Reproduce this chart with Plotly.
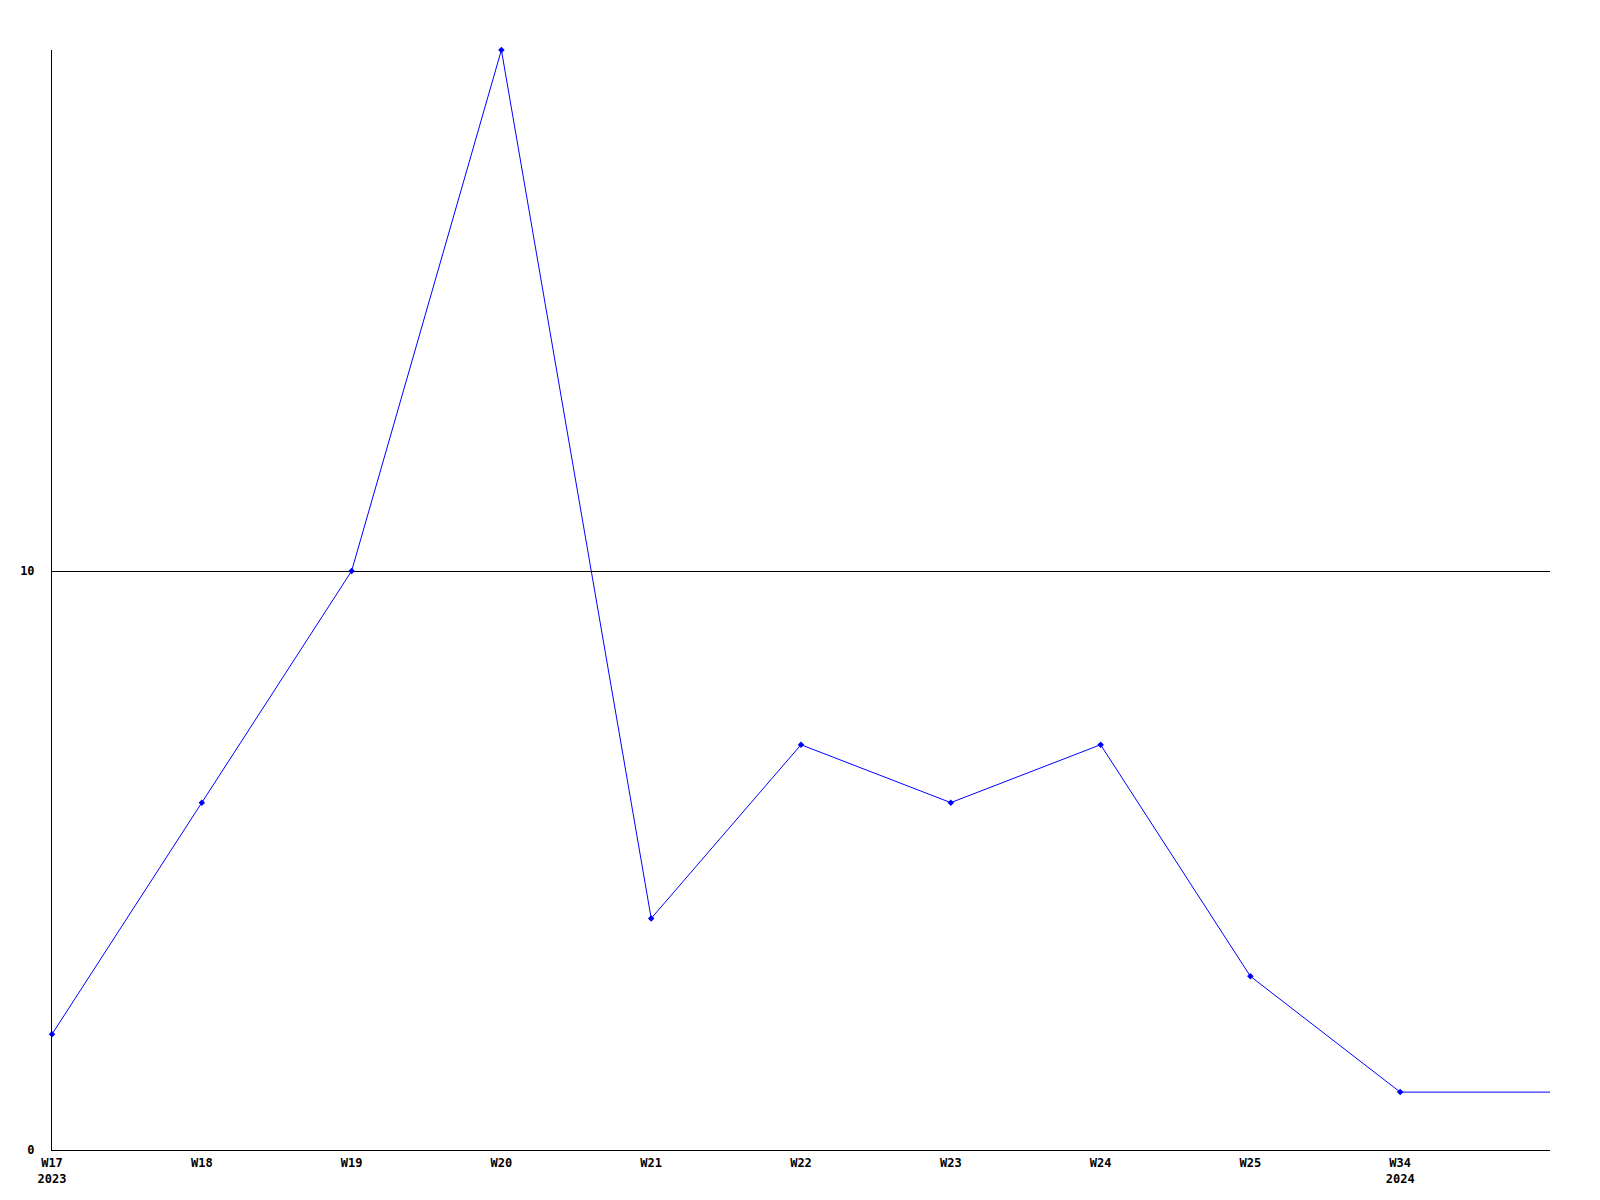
import plotly.graph_objects as go

weeks = ["W17", "W18", "W19", "W20", "W21", "W22", "W23", "W24", "W25", "W34"]
years = ["2023", "", "", "", "", "", "", "", "", "2024"]
values = [2, 6, 10, 19, 4, 7, 6, 7, 3, 1]
y_ticks = [0, 10]

xs = list(range(len(weeks)))
tick_text = [w + ("<br>" + y if y else "") for w, y in zip(weeks, years)]

fig = go.Figure()
# flat continuation of the last value to the right edge
fig.add_trace(go.Scatter(
    x=[xs[-1], len(weeks)], y=[values[-1], values[-1]],
    mode="lines", line=dict(color="#0000ff", width=1), hoverinfo="skip",
    cliponaxis=False, showlegend=False))
fig.add_trace(go.Scatter(
    x=xs, y=values, mode="lines+markers",
    line=dict(color="#0000ff", width=1),
    marker=dict(symbol="diamond", size=5, color="#0000ff"),
    cliponaxis=False, showlegend=False))

font = dict(family="DejaVu Sans Mono", size=12, color="black", weight="bold")
fig.update_layout(
    width=1600, height=1200,
    margin=dict(l=41, r=58, t=42, b=58),
    plot_bgcolor="white", paper_bgcolor="white",
    font=font,
    showlegend=False,
)
fig.update_xaxes(
    range=[0, len(weeks)], tickmode="array", tickvals=xs, ticktext=tick_text,
    showgrid=False, zeroline=False, showline=True, linecolor="black", linewidth=1,
    ticks="", ticklabelstandoff=2, tickfont=font,
)
fig.update_yaxes(
    range=[0, max(values)], tickmode="array", tickvals=y_ticks,
    ticktext=[str(v) for v in y_ticks],
    showgrid=True, gridcolor="black", gridwidth=1, zeroline=False,
    showline=True, linecolor="black", linewidth=1,
    ticks="", ticklabelstandoff=14, tickfont=font,
)
fig.write_html("out.html")
